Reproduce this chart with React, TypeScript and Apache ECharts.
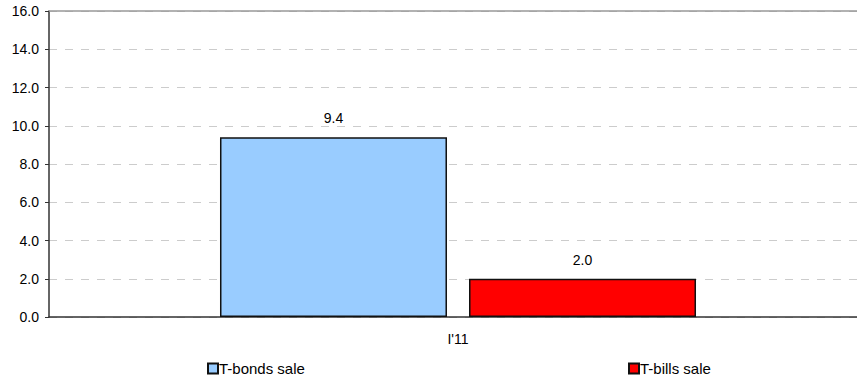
import React, { useEffect, useRef } from "react";
import * as echarts from "echarts";

const categories = ["I'11"];
const tBonds = [9.4];
const tBills = [2.0];
const yTicks = { min: 0, max: 16, interval: 2 };

export default function App() {
  const ref = useRef<HTMLDivElement>(null);
  useEffect(() => {
    const chart = echarts.init(ref.current!, null, { renderer: "svg" });
    const font = "Arial, 'Liberation Sans', sans-serif";
    const legendCommon = {
      top: 361,
      padding: 0,
      itemWidth: 10,
      itemHeight: 10,
      icon: "rect",
      textStyle: { fontSize: 15, color: "#000", fontFamily: font, padding: [0, 0, 0, -4] },
    };
    chart.setOption({
      animation: false,
      textStyle: { fontFamily: font },
      grid: {
        left: 49,
        top: 11,
        width: 818,
        height: 306,
        containLabel: false,
        outerBoundsMode: "none",
      },
      legend: [
        { ...legendCommon, data: ["T-bonds sale"], left: 207 },
        { ...legendCommon, data: ["T-bills sale"], left: 628 },
      ],
      xAxis: [
        {
          type: "category",
          data: categories,
          axisLine: { lineStyle: { color: "#333", width: 1.5 } },
          axisTick: { show: false },
          axisLabel: { color: "#000", fontSize: 14, margin: 15, fontFamily: font },
        },
        {
          type: "category",
          position: "top",
          data: categories,
          axisLine: { lineStyle: { color: "#999", width: 1.5 } },
          axisTick: { show: false },
          axisLabel: { show: false },
        },
      ],
      yAxis: {
        type: "value",
        min: yTicks.min,
        max: yTicks.max,
        interval: yTicks.interval,
        axisLine: { show: true, lineStyle: { color: "#333", width: 1.5 } },
        axisTick: { show: true, length: 4, lineStyle: { color: "#333" } },
        axisLabel: {
          color: "#000",
          fontSize: 14,
          margin: 10,
          fontFamily: font,
          formatter: (v: number) => v.toFixed(1),
        },
        splitLine: { lineStyle: { color: "#ccc", type: [8, 8] } },
      },
      series: [
        {
          name: "T-bonds sale",
          type: "bar",
          data: tBonds,
          barWidth: 227,
          barGap: "9.7%",
          itemStyle: { color: "#99CCFF", borderColor: "#111", borderWidth: 1.5 },
          label: {
            show: true,
            position: "top",
            distance: 12,
            color: "#000",
            fontSize: 14,
            fontFamily: font,
            formatter: (p: any) => Number(p.value).toFixed(1),
          },
        },
        {
          name: "T-bills sale",
          type: "bar",
          data: tBills,
          barWidth: 227,
          barGap: "9.7%",
          itemStyle: { color: "#FF0000", borderColor: "#111", borderWidth: 1.5 },
          label: {
            show: true,
            position: "top",
            distance: 12,
            color: "#000",
            fontSize: 14,
            fontFamily: font,
            formatter: (p: any) => Number(p.value).toFixed(1),
          },
        },
      ],
    });
    return () => chart.dispose();
  }, []);
  return <div ref={ref} style={{ width: 857, height: 376, position: "absolute", left: 0, top: 0 }} />;
}
